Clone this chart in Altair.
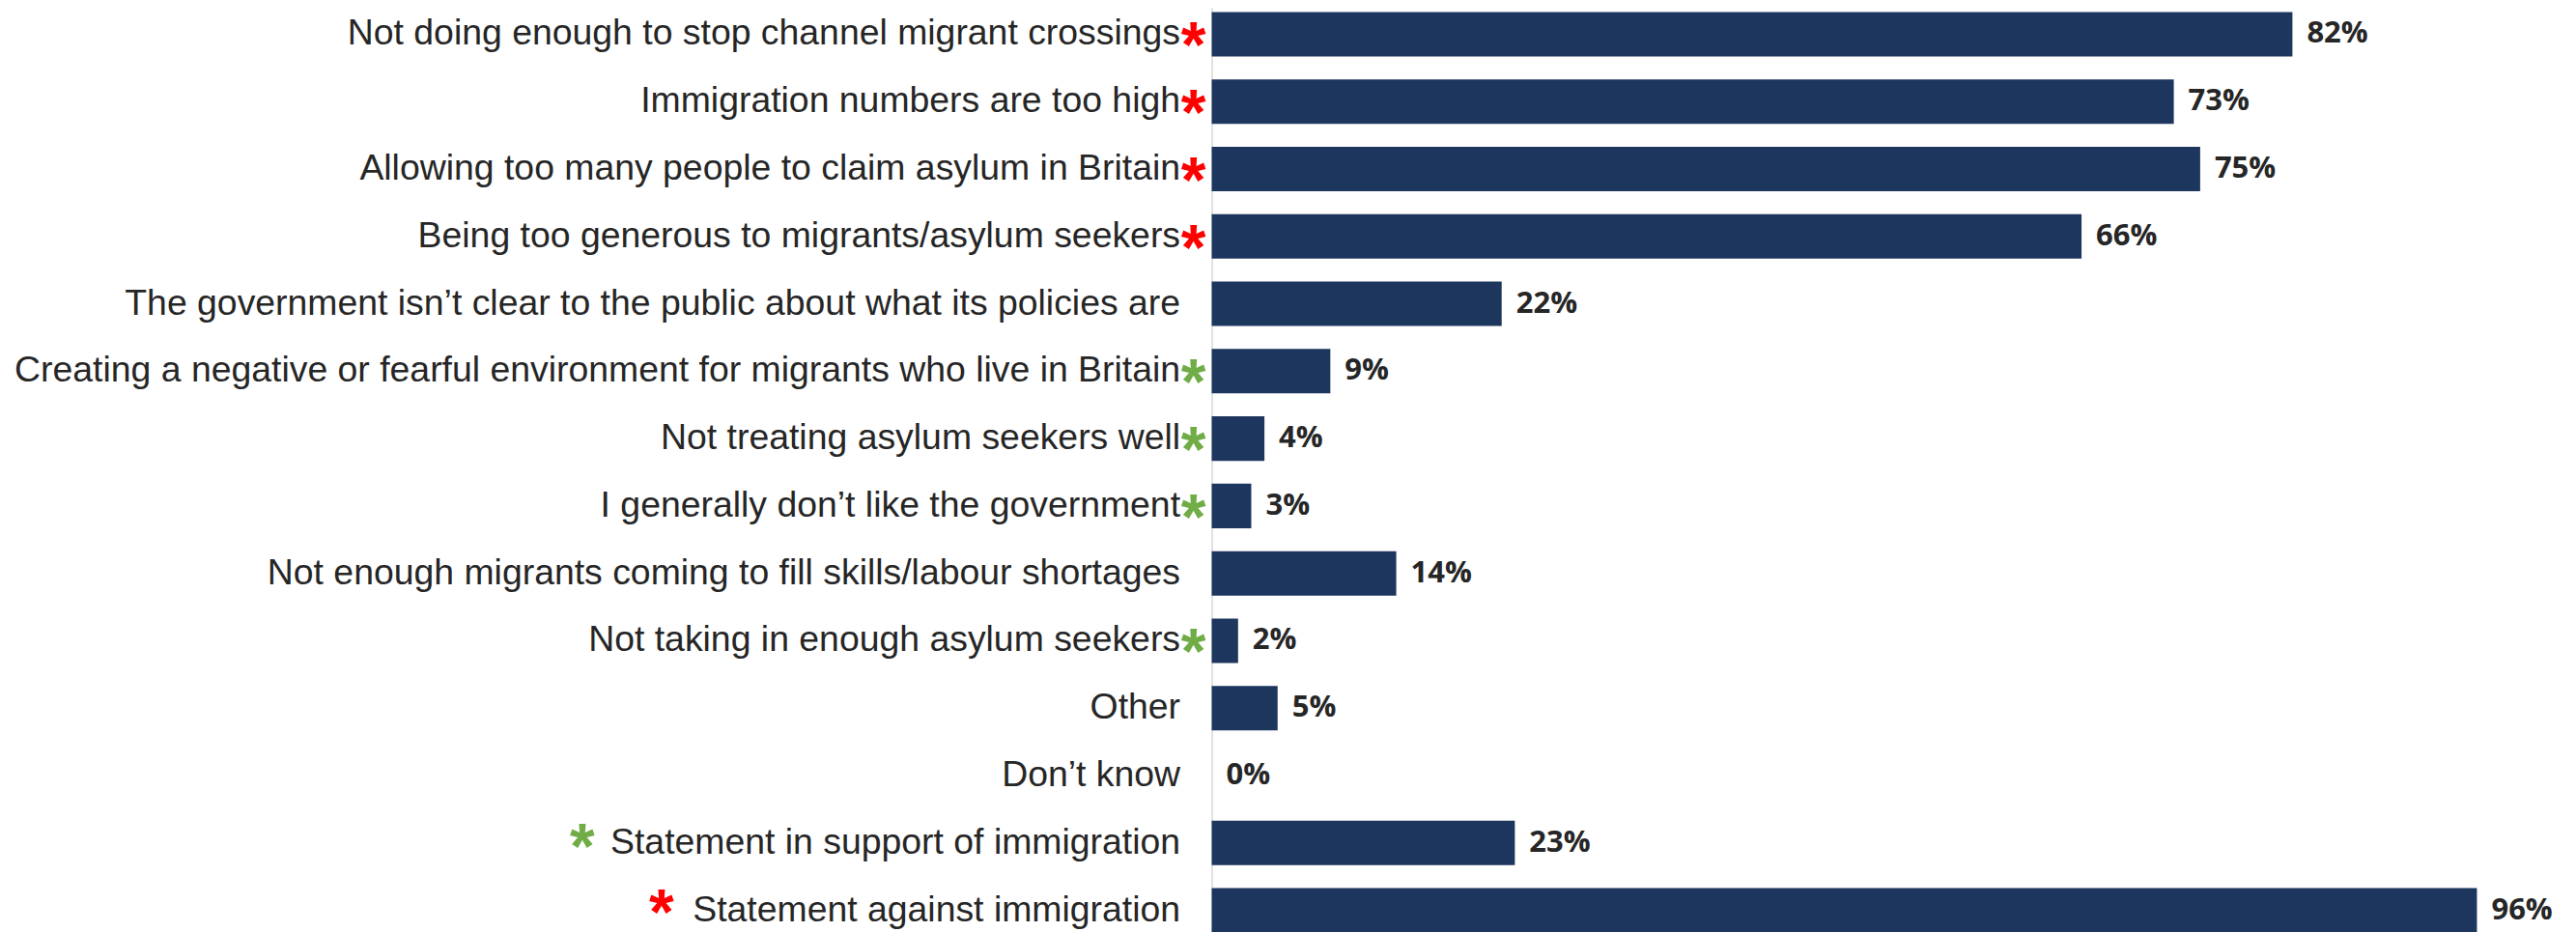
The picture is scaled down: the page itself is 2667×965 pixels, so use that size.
import altair as alt
import pandas as pd

categories = [
    "Not doing enough to stop channel migrant crossings",
    "Immigration numbers are too high",
    "Allowing too many people to claim asylum in Britain",
    "Being too generous to migrants/asylum seekers",
    "The government isn\u2019t clear to the public about what its policies are",
    "Creating a negative or fearful environment for migrants who live in Britain",
    "Not treating asylum seekers well",
    "I generally don\u2019t like the government",
    "Not enough migrants coming to fill skills/labour shortages",
    "Not taking in enough asylum seekers",
    "Other",
    "Don\u2019t know",
    "Statement in support of immigration",
    "Statement against immigration",
]
values = [82, 73, 75, 66, 22, 9, 4, 3, 14, 2, 5, 0, 23, 96]
markers = ["against", "against", "against", "against", "", "support", "support",
           "support", "", "support", "", "", "support", "against"]
marker_side = ["after", "after", "after", "after", "", "after", "after",
               "after", "", "after", "", "", "before", "before"]

df = pd.DataFrame({
    "category": categories,
    "value": values,
    "label": [f"{v}%" for v in values],
    "marker": markers,
    "side": marker_side,
    "star": ["*" if m else "" for m in markers],
})

BAR = "#1d365e"
TEXT = "#262626"

y_enc = alt.Y(
    "category:N",
    sort=categories,
    scale=alt.Scale(domain=categories, range=[-7.6, 969.6], paddingInner=0.34, paddingOuter=0.17),
    axis=alt.Axis(
        title=None,
        labelFont="Liberation Sans",
        labelFontSize=37.4,
        labelColor=TEXT,
        labelPadding=33,
        labelLimit=1400,
        ticks=False,
        domainColor="#d9d9d9",
        domainWidth=1.5,
        grid=False,
    ),
)
x_enc = alt.X("value:Q", scale=alt.Scale(domain=[0, 100]), axis=None)

base = alt.Chart(df)

bars = base.mark_bar(color=BAR).encode(x=x_enc, y=y_enc)

vals = base.mark_text(
    align="left", baseline="middle", dx=15, font="Open Sans",
    fontWeight="bold", fontSize=31, color=TEXT,
).encode(x=x_enc, y=y_enc, text="label:N")

star_color = alt.Color(
    "marker:N",
    scale=alt.Scale(domain=["against", "support"], range=["#ff0000", "#70ad47"]),
    legend=None,
)
star_style = dict(font="Liberation Sans", fontWeight="bold", fontSize=66,
                  align="center", baseline="alphabetic")

stars_after = base.transform_filter(alt.datum.side == "after").mark_text(
    dy=34, **star_style).encode(x=alt.value(-19), y=y_enc, text="star:N", color=star_color)

stars_support = base.transform_filter(
    alt.datum.category == "Statement in support of immigration"
).mark_text(dy=26, **star_style).encode(x=alt.value(-652), y=y_enc, text="star:N", color=star_color)

stars_against = base.transform_filter(
    alt.datum.category == "Statement against immigration"
).mark_text(dy=24, **star_style).encode(x=alt.value(-570), y=y_enc, text="star:N", color=star_color)

chart = alt.layer(bars, vals, stars_after, stars_support, stars_against).properties(
    width=1365,
    height=957,
    autosize=alt.AutoSizeParams(type="none"),
    padding={"left": 1247, "top": 0, "right": 40, "bottom": 0},
).configure_view(stroke=None)

chart.save("out.html", embed_options={"renderer": "svg", "actions": False})
